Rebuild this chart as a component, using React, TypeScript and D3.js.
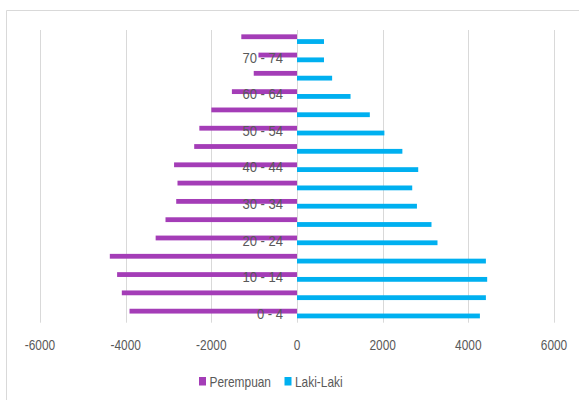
import React from "react";
import * as d3 from "d3";

// Age groups, oldest at the top
const ageGroups = [
  "75+", "70 - 74", "65 - 69", "60 - 64", "55 - 59", "50 - 54", "45 - 49", "40 - 44",
  "35 - 39", "30 - 34", "25 - 29", "20 - 24", "15 - 19", "10 - 14", "5 - 9", "0 - 4",
];
// Female population (drawn to the left as negative)
const perempuan = [1300, 900, 1010, 1520, 2000, 2280, 2400, 2870, 2790, 2820, 3070, 3300, 4370, 4200, 4090, 3910];
// Male population
const lakiLaki = [630, 630, 820, 1250, 1700, 2040, 2460, 2830, 2690, 2800, 3140, 3280, 4410, 4440, 4410, 4270];
const xTicks = [-6000, -4000, -2000, 0, 2000, 4000, 6000];
const seriesNames = ["Perempuan", "Laki-Laki"];
const seriesColors = ["#A43DB7", "#00B0F0"];

const W = 579;
const H = 400;
const FONT = "'Liberation Sans', Arial, sans-serif";
const TEXT = "#595959";
const GRID = "#D9D9D9";

// Narrow text: regular face squeezed horizontally
function NarrowText(props: {
  x: number;
  y: number;
  sx: number;
  size: number;
  anchor?: "start" | "middle" | "end";
  dy?: string;
  children: React.ReactNode;
}) {
  return (
    <text
      transform={`translate(${props.x},${props.y}) scale(${props.sx},1)`}
      dy={props.dy}
      textAnchor={props.anchor ?? "start"}
      fontSize={props.size}
      fill={TEXT}
    >
      {props.children}
    </text>
  );
}

export default function App() {
  const x = d3.scaleLinear().domain([-6000, 6000]).range([40, 554]);
  const y = d3
    .scaleBand<string>()
    .domain(ageGroups)
    .range([30, 322.7])
    .paddingInner(0.475)
    .paddingOuter(0.2375);
  const ySeries = d3.scaleBand<string>().domain(seriesNames).range([0, y.bandwidth()]);
  const zero = x(0);

  const legendItems = [
    { name: seriesNames[0], color: seriesColors[0], x: 199 },
    { name: seriesNames[1], color: seriesColors[1], x: 284.5 },
  ];

  return (
    <svg
      width={W}
      height={H}
      style={{ position: "fixed", left: 0, top: 0, background: "#fff" }}
      fontFamily={FONT}
    >
      <rect x={0} y={0} width={W} height={H} fill="#fff" />
      {/* chart frame */}
      <path d={`M6.5,${H} V10.5 H${W}`} fill="none" stroke={GRID} strokeWidth={1} />

      {/* vertical gridlines */}
      {xTicks.map((t) => (
        <line
          key={t}
          x1={Math.round(x(t)) + 0.5}
          x2={Math.round(x(t)) + 0.5}
          y1={30}
          y2={322.7}
          stroke={GRID}
          strokeWidth={1}
        />
      ))}

      {/* female bars */}
      {ageGroups.map((g, i) => (
        <rect
          key={"p" + g}
          x={x(-perempuan[i])}
          y={(y(g) ?? 0) + (ySeries(seriesNames[0]) ?? 0)}
          width={zero - x(-perempuan[i])}
          height={ySeries.bandwidth()}
          fill={seriesColors[0]}
        />
      ))}
      {/* male bars */}
      {ageGroups.map((g, i) => (
        <rect
          key={"l" + g}
          x={zero}
          y={(y(g) ?? 0) + (ySeries(seriesNames[1]) ?? 0)}
          width={x(lakiLaki[i]) - zero}
          height={ySeries.bandwidth()}
          fill={seriesColors[1]}
        />
      ))}

      {/* category labels, every other group */}
      {ageGroups.map((g, i) =>
        (ageGroups.length - 1 - i) % 2 === 0 ? (
          <NarrowText
            key={"c" + g}
            x={283}
            y={(y(g) ?? 0) + y.bandwidth() / 2}
            dy="0.36em"
            anchor="end"
            size={14.5}
            sx={0.9}
          >
            {g}
          </NarrowText>
        ) : null
      )}

      {/* x axis tick labels */}
      {xTicks.map((t) => (
        <NarrowText key={"t" + t} x={x(t)} y={350} anchor="middle" size={14} sx={0.85}>
          {t}
        </NarrowText>
      ))}

      {/* legend */}
      {legendItems.map((it) => (
        <g key={it.name}>
          <rect x={it.x} y={377} width={7} height={8.5} fill={it.color} />
          <NarrowText x={it.x + 10.5} y={386.5} size={14} sx={0.85}>
            {it.name}
          </NarrowText>
        </g>
      ))}
    </svg>
  );
}
